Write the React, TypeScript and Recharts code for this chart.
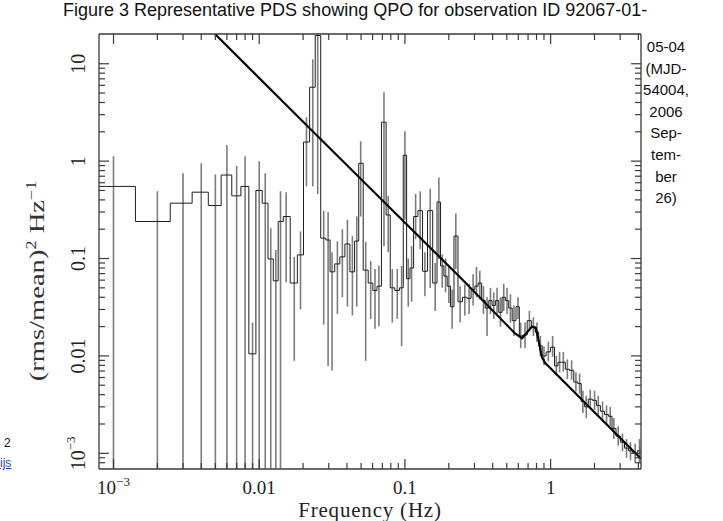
import React from 'react';
import { ComposedChart, Line, XAxis, YAxis, ErrorBar } from 'recharts';

// ---------- data ----------
const freq = [
  0.001, 0.002, 0.003, 0.004, 0.005, 0.006, 0.007, 0.008, 0.009, 0.010, 0.011, 0.012, 0.013, 0.014,
  0.0153, 0.0174, 0.0192, 0.0211, 0.0233, 0.0252, 0.0277, 0.0297, 0.0316, 0.0344, 0.0372, 0.0403,
  0.0436, 0.0467, 0.0497, 0.0538, 0.0582, 0.0623, 0.0663, 0.0718, 0.0768, 0.0819, 0.0886, 0.0949,
  0.100, 0.1054, 0.1111, 0.1184, 0.1273, 0.1371, 0.1491, 0.1613, 0.1710, 0.1802, 0.1900, 0.2001,
  0.2109, 0.2235, 0.2392, 0.2576, 0.2757, 0.2937, 0.3098, 0.3264, 0.3459, 0.3661, 0.3864, 0.4070,
  0.4288, 0.4524, 0.4765, 0.5021, 0.5297, 0.5605, 0.5970, 0.6230, 0.6668, 0.7146, 0.7612, 0.8056,
  0.8500, 0.8997, 0.9643, 1.032, 1.094, 1.152, 1.222, 1.302, 1.393, 1.491, 1.580, 1.664, 1.756,
  1.870, 2.002, 2.122, 2.271, 2.419, 2.564, 2.714, 2.909, 3.113, 3.316, 3.531, 3.803, 4.070,
];
const power = [
  0.55, 0.24, 0.37, 0.48, 0.35, 0.72, 0.44, 0.55, 0.0105, 0.50, 0.37, 0.099, 0.059, 0.24,
  0.27, 0.056, 0.109, 1.57, 5.74, 19.5, 0.162, 0.155, 0.073, 0.088, 0.104, 0.141,
  0.073, 0.151, 0.95, 0.076, 0.056, 0.047, 0.052, 2.51, 0.28, 0.050, 0.047, 0.050,
  1.15, 0.062, 0.080, 0.27, 0.31, 0.074, 0.31, 0.056, 0.38, 0.084, 0.066, 0.052,
  0.032, 0.17, 0.036, 0.040, 0.039, 0.048, 0.052, 0.056, 0.037, 0.031, 0.037, 0.033,
  0.037, 0.028, 0.040, 0.037, 0.031, 0.023, 0.032, 0.016, 0.0164, 0.023, 0.020, 0.0176,
  0.0127, 0.010, 0.011, 0.0123, 0.0079, 0.0086, 0.0086, 0.0073, 0.0071, 0.0054, 0.0052, 0.0034, 0.0030,
  0.0036, 0.0035, 0.0031, 0.0027, 0.0025, 0.0024, 0.0018, 0.0015, 0.0013, 0.00113, 0.00106, 0.00101, 0.00106,
];
const errLow = [
  0.0007, 0.0007, 0.0007, 0.0007, 0.0007, 0.0007, 0.0007, 0.0007, 0.0007, 0.0007, 0.0007, 0.0007, 0.0007, 0.0007,
  0.057, 0.0089, 0.030, 0.55, 0.55, 0.46, 0.021, 0.0079, 0.0071, 0.027, 0.04, 0.032,
  0.026, 0.032, 0.27, 0.0089, 0.024, 0.019, 0.02, 0.134, 0.116, 0.022, 0.024, 0.0126,
  0.25, 0.032, 0.036, 0.158, 0.125, 0.041, 0.05, 0.029, 0.099, 0.05, 0.045, 0.035,
  0.019, 0.078, 0.022, 0.026, 0.027, 0.033, 0.04, 0.038, 0.027, 0.016, 0.027, 0.024,
  0.027, 0.02, 0.029, 0.027, 0.022, 0.016, 0.024, 0.012, 0.012, 0.018, 0.016, 0.014,
  0.010, 0.008, 0.0088, 0.0098, 0.0063, 0.0068, 0.0069, 0.0058, 0.0057, 0.0043, 0.0041, 0.0026, 0.0023,
  0.0029, 0.0028, 0.0025, 0.0021, 0.002, 0.0019, 0.0014, 0.0012, 0.00105, 0.0009, 0.00085, 0.0008, 0.0008,
];
const errHigh = [
  1.12, 0.49, 0.75, 0.95, 0.73, 1.46, 0.89, 1.12, 0.022, 1.0, 0.75, 0.205, 0.122, 0.49,
  0.48, 0.104, 0.19, 2.83, 11.1, 19.5, 0.31, 0.30, 0.116, 0.15, 0.2, 0.25,
  0.17, 0.27, 1.6, 0.148, 0.094, 0.078, 0.085, 5.1, 0.44, 0.078, 0.078, 0.084,
  2.03, 0.10, 0.134, 0.46, 0.49, 0.116, 0.52, 0.09, 0.68, 0.11, 0.1, 0.085,
  0.048, 0.29, 0.052, 0.054, 0.055, 0.069, 0.082, 0.075, 0.052, 0.04, 0.05, 0.045,
  0.05, 0.04, 0.055, 0.05, 0.043, 0.033, 0.04, 0.022, 0.022, 0.029, 0.025, 0.022,
  0.016, 0.0125, 0.014, 0.016, 0.010, 0.011, 0.011, 0.0092, 0.009, 0.0068, 0.0066, 0.0044, 0.0039,
  0.0045, 0.0044, 0.0039, 0.0034, 0.0031, 0.0030, 0.0023, 0.0019, 0.0016, 0.0014, 0.0013, 0.00125, 0.0014,
];

// model: power law + QPO Lorentzian
const modelFreq = [0.00497, 0.022, 0.238, 0.57, 0.636, 0.69, 0.745, 0.79, 0.83, 0.869, 0.915, 4.17];
const modelPower = [20.2, 2.2, 0.0646, 0.0170, 0.0152, 0.0175, 0.0200, 0.0194, 0.0140, 0.0098, 0.0085, 0.00088];

// axis settings
const xDomain = [0.000795, 4.17];
const yDomain = [0.00069, 20.2];
const xMajorTicks = [0.001, 0.01, 0.1, 1];
const xMajorLabels = ['10^−3', '0.01', '0.1', '1'];
const xMinorTicks = [
  0.002, 0.003, 0.004, 0.005, 0.006, 0.007, 0.008, 0.009,
  0.02, 0.03, 0.04, 0.05, 0.06, 0.07, 0.08, 0.09,
  0.2, 0.3, 0.4, 0.5, 0.6, 0.7, 0.8, 0.9,
  2, 3, 4,
];
const yMajorTicks = [0.001, 0.01, 0.1, 1, 10];
const yMajorLabels = ['10^−3', '0.01', '0.1', '1', '10'];
const yMinorTicks = [
  0.0008, 0.0009,
  0.002, 0.003, 0.004, 0.005, 0.006, 0.007, 0.008, 0.009,
  0.02, 0.03, 0.04, 0.05, 0.06, 0.07, 0.08, 0.09,
  0.2, 0.3, 0.4, 0.5, 0.6, 0.7, 0.8, 0.9,
  2, 3, 4, 5, 6, 7, 8, 9,
];

// tables for the library
const firstPower = power[0];
const lastPower = power[power.length - 1];
const pdsData = [
  { f: xDomain[0], p: firstPower, err: [0, 0] },
  ...freq.map((f, i) => ({ f, p: power[i], err: [power[i] - errLow[i], errHigh[i] - power[i]] })),
  { f: xDomain[1], p: lastPower, err: [0, 0] },
];
const modelData = modelFreq.map((f, i) => ({ f, m: modelPower[i] }));
const xTicksAll = [...xMajorTicks, ...xMinorTicks].sort((a, b) => a - b);
const yTicksAll = [...yMajorTicks, ...yMinorTicks].sort((a, b) => a - b);

// ---------- styling ----------
const AXIS = '#3a3a3a';
const SERIF = '"Liberation Serif", "Times New Roman", serif';
const SANS = '"Liberation Sans", Arial, sans-serif';
const MAJOR = 10;
const MINOR = 6;

const majorIndex = (list: number[], v: number) => list.findIndex((m) => Math.abs(m - v) / m < 1e-6);

const renderLabel = (lbl: string) => {
  if (lbl.includes('^')) {
    const [b, e] = lbl.split('^');
    return [
      <tspan key="b">{b}</tspan>,
      <tspan key="e" dy={-8} fontSize={13}>{e}</tspan>,
    ];
  }
  return lbl;
};

const BottomTick = (props: any) => {
  const { x, y, payload } = props;
  const idx = majorIndex(xMajorTicks, payload.value);
  const len = idx >= 0 ? MAJOR : MINOR;
  return (
    <g>
      <line x1={x} x2={x} y1={y} y2={y - len} stroke={AXIS} strokeWidth={1.2} />
      {idx >= 0 && (
        <text x={x} y={y + 25} textAnchor="middle" fontFamily={SERIF} fontSize={19} fill="#222">
          {renderLabel(xMajorLabels[idx])}
        </text>
      )}
    </g>
  );
};

const TopTick = (props: any) => {
  const { x, y, payload } = props;
  const idx = majorIndex(xMajorTicks, payload.value);
  const len = idx >= 0 ? MAJOR : MINOR;
  return <line x1={x} x2={x} y1={y} y2={y + len} stroke={AXIS} strokeWidth={1.2} />;
};

const LeftTick = (props: any) => {
  const { x, y, payload } = props;
  const idx = majorIndex(yMajorTicks, payload.value);
  const len = idx >= 0 ? MAJOR : MINOR;
  const lx = x - 21;
  return (
    <g>
      <line x1={x} x2={x + len} y1={y} y2={y} stroke={AXIS} strokeWidth={1.2} />
      {idx >= 0 && (
        <text
          x={lx}
          y={y}
          transform={`rotate(-90 ${lx} ${y})`}
          textAnchor="middle"
          dominantBaseline="central"
          fontFamily={SERIF}
          fontSize={20}
          fill="#222"
        >
          {renderLabel(yMajorLabels[idx])}
        </text>
      )}
    </g>
  );
};

const RightTick = (props: any) => {
  const { x, y, payload } = props;
  const idx = majorIndex(yMajorTicks, payload.value);
  const len = idx >= 0 ? MAJOR : MINOR;
  return <line x1={x} x2={x - len} y1={y} y2={y} stroke={AXIS} strokeWidth={1.2} />;
};

const captionLines = ['05-04', '(MJD-', '54004,', '2006', 'Sep-', 'tem-', 'ber', '26)'];
const captionTitle = 'Figure 3 Representative PDS showing QPO for observation ID 92067-01-';

export default function App() {
  return (
    <div style={{ position: 'absolute', left: 0, top: 0, width: 723, height: 521, background: '#fff', overflow: 'hidden' }}>
      <div
        style={{
          position: 'absolute', left: 63, top: 0, whiteSpace: 'nowrap',
          fontFamily: SANS, fontSize: 18, lineHeight: '20px', color: '#111',
        }}
      >
        {captionTitle}
      </div>
      <div
        style={{
          position: 'absolute', left: 639, top: 36, width: 54, textAlign: 'center',
          fontFamily: SANS, fontSize: 15, lineHeight: '21.6px', color: '#111',
        }}
      >
        {captionLines.map((l) => (
          <div key={l}>{l}</div>
        ))}
      </div>
      <div style={{ position: 'absolute', left: 4, top: 436, fontFamily: SANS, fontSize: 12, color: '#111' }}>2</div>
      <div
        style={{
          position: 'absolute', left: 0, top: 456, fontFamily: SANS, fontSize: 12,
          color: '#1a4db3', textDecoration: 'underline',
        }}
      >
        ijs
      </div>

      <div style={{ position: 'absolute', left: 0, top: 0 }}>
        <ComposedChart width={723} height={521} margin={{ top: 24, right: 72, bottom: 0, left: 0 }}>
          <XAxis
            xAxisId="b" dataKey="f" type="number" scale="log" domain={xDomain} allowDataOverflow
            ticks={xTicksAll} interval={0} tick={<BottomTick />} tickLine={false} tickSize={0} tickMargin={0}
            height={52} axisLine={{ stroke: AXIS, strokeWidth: 1.3 }}
          />
          <XAxis
            xAxisId="t" orientation="top" dataKey="f" type="number" scale="log" domain={xDomain} allowDataOverflow
            ticks={xTicksAll} interval={0} tick={<TopTick />} tickLine={false} tickSize={0} tickMargin={0}
            height={10} axisLine={{ stroke: AXIS, strokeWidth: 1.3 }}
          />
          <YAxis
            yAxisId="l" type="number" scale="log" domain={yDomain} allowDataOverflow
            ticks={yTicksAll} interval={0} tick={<LeftTick />} tickLine={false} tickSize={0} tickMargin={0}
            width={99} axisLine={{ stroke: AXIS, strokeWidth: 1.3 }}
          />
          <YAxis
            yAxisId="r" orientation="right" type="number" scale="log" domain={yDomain} allowDataOverflow
            ticks={yTicksAll} interval={0} tick={<RightTick />} tickLine={false} tickSize={0} tickMargin={0}
            width={10} axisLine={{ stroke: AXIS, strokeWidth: 1.3 }}
          />
          <Line
            xAxisId="b" yAxisId="l" data={pdsData} dataKey="p" type="step" stroke="#1e1e1e" strokeWidth={1}
            dot={false} activeDot={false} isAnimationActive={false}
          >
            <ErrorBar dataKey="err" direction="y" width={0} stroke="#7c7c7c" strokeWidth={1.6} isAnimationActive={false} />
          </Line>
          <Line
            xAxisId="b" yAxisId="l" data={modelData} dataKey="m" type="linear" stroke="#0a0a0a" strokeWidth={2.2}
            dot={false} activeDot={false} isAnimationActive={false}
          />
        </ComposedChart>
      </div>

      <svg width={723} height={521} style={{ position: 'absolute', left: 0, top: 0, pointerEvents: 'none' }}>
        <text x={370} y={517} textAnchor="middle" fontFamily={SERIF} fontSize={21} letterSpacing={0.8} fill="#222">
          Frequency (Hz)
        </text>
        <text
          transform="translate(44 281) rotate(-90) scale(1.3 1)"
          textAnchor="middle"
          fontFamily={SERIF}
          fontSize={22}
          fill="#333"
        >
          (rms/mean)<tspan dy={-8} fontSize={14}>2</tspan>
          <tspan dy={8}> Hz</tspan>
          <tspan dy={-8} fontSize={14}>−1</tspan>
        </text>
      </svg>
    </div>
  );
}
